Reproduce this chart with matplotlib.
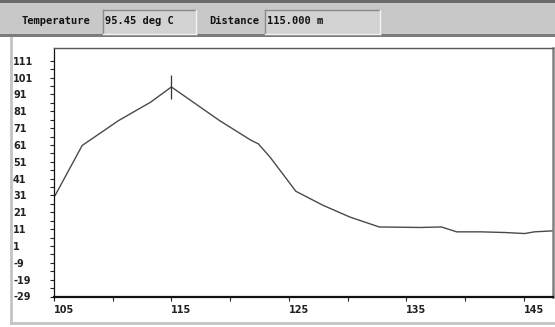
import matplotlib
matplotlib.use("Agg")
import matplotlib.pyplot as plt
from matplotlib.patches import Rectangle
from matplotlib.lines import Line2D

# ---- data ----
distance = [105.1, 107.4, 110.5, 113.2, 115.0, 119.1, 121.8, 122.4, 123.4,
            125.6, 127.9, 130.2, 132.7, 136.2, 138.0, 139.3, 141.4, 143.4,
            145.1, 145.9, 147.5]
temperature = [31.1, 60.7, 75.5, 86.3, 95.45, 75.5, 63.7, 61.7, 53.8,
               33.5, 25.2, 18.2, 12.3, 12.0, 12.3, 9.4, 9.4, 9.0,
               8.4, 9.4, 10.0]
cursor_distance = [115.0]
cursor_temperature = [95.45]
x_ticks = [105, 115, 125, 135, 145]
x_minor = [110, 120, 130, 140]
y_ticks = [-29, -19, -9, 1, 11, 21, 31, 41, 51, 61, 71, 81, 91, 101, 111]
y_minor = [-24, -14, -4, 6, 16, 26, 36, 46, 56, 66, 76, 86, 96, 106]
header_labels = ["Temperature", "Distance"]
header_values = ["95.45 deg C", "115.000 m"]

W, H = 555, 327
fig = plt.figure(figsize=(W / 100, H / 100), dpi=100)
fig.patch.set_facecolor("white")

def fx(px):
    return px / W

def fy(py):
    return 1 - py / H

# ---- header bar ----
fig.patches.append(Rectangle((0, fy(37)), 1, 37 / H, transform=fig.transFigure,
                             facecolor="#c8c8c8", edgecolor="none", zorder=0))
fig.patches.append(Rectangle((0, fy(3)), 1, 3 / H, transform=fig.transFigure,
                             facecolor="#6a6a6a", edgecolor="none", zorder=1))
fig.patches.append(Rectangle((0, fy(37)), 1, 3 / H, transform=fig.transFigure,
                             facecolor="#7c7c7c", edgecolor="none", zorder=1))

def inset_box(x0, x1, y0, y1):
    fig.patches.append(Rectangle((fx(x0), fy(y1)), (x1 - x0) / W, (y1 - y0) / H,
                                 transform=fig.transFigure, facecolor="#d2d2d2",
                                 edgecolor="none", zorder=2))
    # dark top/left, light bottom/right
    fig.lines.append(Line2D([fx(x0), fx(x1)], [fy(y0), fy(y0)], transform=fig.transFigure,
                            color="#8a8a8a", lw=1, zorder=3))
    fig.lines.append(Line2D([fx(x0), fx(x0)], [fy(y0), fy(y1)], transform=fig.transFigure,
                            color="#8a8a8a", lw=1, zorder=3))
    fig.lines.append(Line2D([fx(x0), fx(x1)], [fy(y1), fy(y1)], transform=fig.transFigure,
                            color="#f4f4f4", lw=1, zorder=3))
    fig.lines.append(Line2D([fx(x1), fx(x1)], [fy(y0), fy(y1)], transform=fig.transFigure,
                            color="#f4f4f4", lw=1, zorder=3))

inset_box(103, 196, 10, 34)
inset_box(265, 380, 10, 34)

hdr_font = dict(fontsize=7.5, fontweight="bold", color="#111111", va="center",
                ha="left", family="DejaVu Sans Mono")
fig.text(fx(21), fy(21), header_labels[0], **hdr_font)
fig.text(fx(105), fy(21), header_values[0], **hdr_font)
fig.text(fx(209), fy(21), header_labels[1], **hdr_font)
fig.text(fx(267), fy(21), header_values[1], **hdr_font)

# ---- outer frame (left & bottom) ----
fig.lines.append(Line2D([fx(11), fx(11)], [fy(38), fy(323)], transform=fig.transFigure,
                        color="#c4c4c4", lw=2, zorder=1))
fig.lines.append(Line2D([fx(11), fx(555)], [fy(323), fy(323)], transform=fig.transFigure,
                        color="#c4c4c4", lw=2, zorder=1))

# ---- plot ----
ax = fig.add_axes([fx(54), fy(296.5), (553 - 54) / W, (296.5 - 48) / H])
ax.plot(distance, temperature, color="#4a4a4a", lw=1.0)
ax.plot(cursor_distance, cursor_temperature, marker="|", markersize=17,
        markeredgewidth=0.9, color="#333333", linestyle="none")

ax.set_xlim(105, 147.5)
ax.set_ylim(-29, 118.6)
ax.set_xticks(x_ticks)
ax.set_xticks(x_minor, minor=True)
ax.set_yticks(y_ticks)
ax.set_yticks(y_minor, minor=True)
ax.set_yticklabels([str(v) for v in y_ticks])
ax.set_xticklabels([str(v) for v in x_ticks])

ax.tick_params(axis="both", which="both", direction="out", length=3, width=0.8,
               colors="#222222", labelsize=7)
ax.tick_params(axis="y", which="major", pad=26.5)
ax.tick_params(axis="x", which="major", pad=3)
for lab in ax.get_yticklabels():
    lab.set_horizontalalignment("left")
    lab.set_fontweight("bold")
for lab in ax.get_xticklabels():
    lab.set_horizontalalignment("left")
    lab.set_fontweight("bold")

ax.spines["left"].set_color("#111111")
ax.spines["left"].set_linewidth(0.9)
ax.spines["bottom"].set_color("#111111")
ax.spines["bottom"].set_linewidth(1.6)
ax.spines["top"].set_color("#555555")
ax.spines["top"].set_linewidth(1.0)
ax.spines["right"].set_color("#808080")
ax.spines["right"].set_linewidth(1.8)

fig.savefig("out.png", dpi=100)
